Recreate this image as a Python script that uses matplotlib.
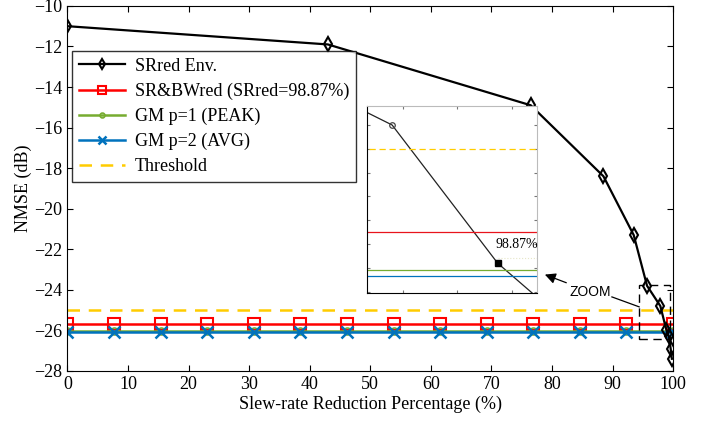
import numpy as np
import matplotlib
matplotlib.use("Agg")
import matplotlib.pyplot as plt
from matplotlib.patches import Rectangle

# data
env_x = [0, 43, 76.5, 88.5, 93.5, 95.7, 97.9, 98.87, 99.3, 99.6, 99.8]
env_y = [-11.0, -11.9, -14.9, -18.4, -21.3, -23.8, -24.8, -25.96, -26.3, -26.9, -27.4]

flat_x = np.linspace(0, 100, 14)
srbw_level = -25.7
gm_peak_level = -26.02
gm_avg_level = -26.07
threshold_level = -25.0

sr_point = 98.87
sr_point_y = -25.96

srbw_y = [srbw_level] * len(flat_x)
gm_peak_y = [gm_peak_level] * len(flat_x)
gm_avg_y = [gm_avg_level] * len(flat_x)

c_red = "#ff0000"
c_green = "#77ac30"
c_blue = "#0072bd"
c_yellow = "#ffcc00"

plt.rcParams["font.family"] = ["Liberation Serif", "DejaVu Serif"]

fig = plt.figure(figsize=(7.10, 4.22), dpi=100)
ax = fig.add_axes([0.095, 0.121, 0.853, 0.865])

ax.plot(env_x, env_y, color="black", lw=1.6, marker="d", ms=7,
        mfc="none", mec="black", mew=1.5, label="SRred Env.", zorder=5)
ax.plot(flat_x, srbw_y, color=c_red, lw=1.8, marker="s", ms=9,
        mfc="none", mew=1.5, label="SR&BWred (SRred=98.87%)")
ax.plot(flat_x, gm_peak_y, color=c_green, lw=1.8, marker="o", ms=5,
        mfc="none", mew=1.2, label="GM p=1 (PEAK)")
ax.plot(flat_x, gm_avg_y, color=c_blue, lw=1.8, marker="x", ms=8,
        mew=1.8, label="GM p=2 (AVG)")
ax.plot([0, 100], [threshold_level, threshold_level], color=c_yellow,
        lw=1.8, ls=(0, (5, 3.5)), label="Threshold")

ax.set_xlim(0, 100)
ax.set_ylim(-28, -10)
ax.set_xticks(np.arange(0, 101, 10))
ax.set_yticks(np.arange(-28, -9, 2))
ax.tick_params(direction="in", length=4, labelsize=13, top=True, right=True)
ax.set_xlabel("Slew-rate Reduction Percentage (%)", fontsize=13, labelpad=2)
ax.set_ylabel("NMSE (dB)", fontsize=13, labelpad=2)

leg = ax.legend(loc="upper left", bbox_to_anchor=(0.007, 0.877), fontsize=13,
                frameon=True, fancybox=False, edgecolor="black",
                handlelength=2.6, borderpad=0.38, labelspacing=0.44,
                handletextpad=0.5, borderaxespad=0, markerscale=0.7)
leg.get_frame().set_linewidth(1.0)

# zoom rectangle and annotations
ax.add_patch(Rectangle((94.4, -26.42), 5.1, 2.66, fill=False, ec="black",
                       lw=1.0, ls=(0, (6, 4)), zorder=6))
ax.text(86.3, -24.1, "ZOOM", family="Liberation Sans", fontsize=10,
        ha="center", va="center")
ax.annotate("", xy=(78.4, -23.2), xytext=(82.8, -23.7),
            arrowprops=dict(arrowstyle="-|>", color="black", lw=0.9,
                            mutation_scale=16))
ax.plot([89.9, 94.4], [-24.35, -24.84], color="black", lw=0.9)

# inset
ins = fig.add_axes([0.517, 0.306, 0.239, 0.443])
ins.plot(env_x, env_y, color="#222222", lw=0.9)
ins.plot(env_x[6], env_y[6], marker="o", ms=4, mfc="none", mec="#444444",
         mew=0.9)
ins.plot(flat_x, srbw_y, color="#e8141c", lw=0.9)
ins.plot(flat_x, gm_peak_y, color=c_green, lw=0.9)
ins.plot(flat_x, gm_avg_y, color=c_blue, lw=0.9)
ins.plot([0, 100], [threshold_level, threshold_level], color=c_yellow,
         lw=0.9, ls=(0, (5, 3)))
ins.plot([sr_point, 100], [sr_point_y + 0.04, sr_point_y + 0.04],
         color="#e6e6c8", lw=0.8, ls=":")
ins.plot([sr_point], [sr_point_y], marker="s", color="black", ms=4)
ins.text(sr_point - 0.02, -25.8, "98.87%", fontsize=10, ha="left",
         va="center")
ins.set_xlim(97.67, 99.23)
ins.set_ylim(-26.21, -24.64)
ins.set_xticks([98.0, 98.5, 99.0])
ins.set_yticks(np.arange(-26.2, -24.6, 0.2))
ins.tick_params(direction="in", length=2.5, labelbottom=False,
                labelleft=False, top=True, right=True, color="#777777")
for side in ["top", "right"]:
    ins.spines[side].set_color("#bbbbbb")
for side in ["left", "bottom"]:
    ins.spines[side].set_color("black")

fig.savefig("out.png", dpi=100)
